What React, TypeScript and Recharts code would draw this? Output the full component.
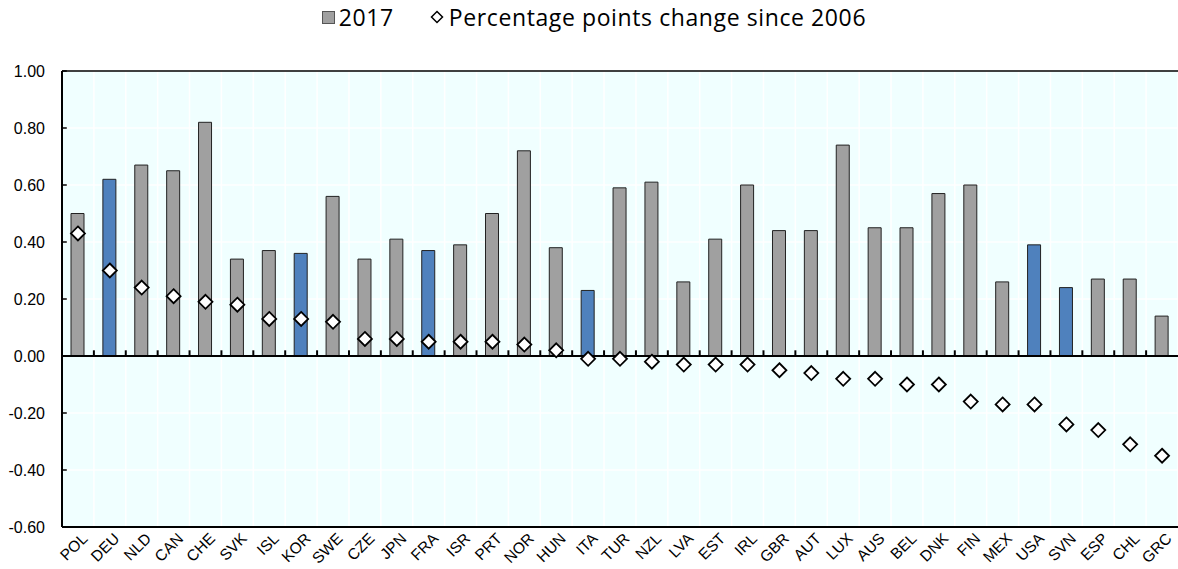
import { Bar, Cell, ComposedChart, CartesianGrid, Line, ReferenceLine, XAxis, YAxis } from "recharts"

const countries = [
  "POL", "DEU", "NLD", "CAN", "CHE", "SVK", "ISL", "KOR", "SWE", "CZE", "JPN", "FRA",
  "ISR", "PRT", "NOR", "HUN", "ITA", "TUR", "NZL", "LVA", "EST", "IRL", "GBR", "AUT",
  "LUX", "AUS", "BEL", "DNK", "FIN", "MEX", "USA", "SVN", "ESP", "CHL", "GRC",
]

const level2017 = [
  0.5, 0.62, 0.67, 0.65, 0.82, 0.34, 0.37, 0.36, 0.56, 0.34, 0.41, 0.37,
  0.39, 0.5, 0.72, 0.38, 0.23, 0.59, 0.61, 0.26, 0.41, 0.6, 0.44, 0.44,
  0.74, 0.45, 0.45, 0.57, 0.6, 0.26, 0.39, 0.24, 0.27, 0.27, 0.14,
]

const change2006 = [
  0.43, 0.3, 0.24, 0.21, 0.19, 0.18, 0.13, 0.13, 0.12, 0.06, 0.06, 0.05,
  0.05, 0.05, 0.04, 0.02, -0.01, -0.01, -0.02, -0.03, -0.03, -0.03, -0.05, -0.06,
  -0.08, -0.08, -0.1, -0.1, -0.16, -0.17, -0.17, -0.24, -0.26, -0.31, -0.35,
]

const highlighted = ["DEU", "KOR", "FRA", "ITA", "USA", "SVN"]

const yTicks = [-0.6, -0.4, -0.2, 0, 0.2, 0.4, 0.6, 0.8, 1.0]

const data = countries.map((c, i) => ({ name: c, pos: i + 0.5, level: level2017[i], change: change2006[i] }))
const boundaries = countries.map((_, i) => i).concat(countries.length)

const GRAY = "#a0a0a0"
const BLUE = "#4f81bd"
const AXIS_FONT = "Liberation Sans, Arial, sans-serif"

function Diamond(props: any) {
  const { cx, cy } = props
  if (cx == null || cy == null) return null
  const r = 7
  return (
    <path
      d={`M${cx},${cy - r} L${cx + r},${cy} L${cx},${cy + r} L${cx - r},${cy} Z`}
      fill="#fff"
      stroke="#000"
      strokeWidth={1.8}
    />
  )
}

function CountryTick(props: any) {
  const { x, y, payload } = props
  return (
    <g transform={`translate(${x + 7},${y + 1}) rotate(-45)`}>
      <text x={0} y={0} dy={5} textAnchor="end" fontFamily={AXIS_FONT} fontSize={15.5} fill="#000">
        {payload.value}
      </text>
    </g>
  )
}

function YTick(props: any) {
  const { y, payload } = props
  return (
    <text x={45} y={y} dy={5.5} textAnchor="end" fontFamily={AXIS_FONT} fontSize={16} fill="#000">
      {Number(payload.value).toFixed(2)}
    </text>
  )
}

function Legend() {
  return (
    <div
      style={{
        position: "absolute",
        top: 1,
        left: 0,
        width: 1178,
        display: "flex",
        justifyContent: "center",
        alignItems: "center",
        fontFamily: "'Open Sans', sans-serif",
        fontSize: 23,
        letterSpacing: 0.6,
        color: "#000",
        whiteSpace: "nowrap",
        paddingLeft: 10,
        boxSizing: "border-box",
      }}
    >
      <span style={{ display: "inline-block", width: 11, height: 11, background: GRAY, border: "1px solid #555", marginRight: 4 }} />
      <span style={{ marginRight: 36 }}>2017</span>
      <svg width={14} height={14} style={{ marginRight: 5 }}>
        <path d="M7,1.5 L12.5,7 L7,12.5 L1.5,7 Z" fill="#fff" stroke="#000" strokeWidth={1.5} />
      </svg>
      <span>Percentage points change since 2006</span>
    </div>
  )
}

export default function App() {
  return (
    <div style={{ position: "absolute", left: 0, top: 0, width: 1178, height: 569, background: "#fff" }}>
      <Legend />
      <ComposedChart width={1178} height={569} data={data} margin={{ top: 71, right: 0, left: 0, bottom: 0 }}>
        <XAxis
          dataKey="name"
          interval={0}
          height={42}
          tickLine={false}
          axisLine={{ stroke: "#000", strokeWidth: 2 }}
          tick={<CountryTick />}
        />
        <XAxis
          xAxisId="b"
          dataKey="pos"
          type="number"
          domain={[0, countries.length]}
          ticks={boundaries}
          allowDataOverflow
          hide
        />
        <YAxis
          domain={[-0.6, 1.0]}
          ticks={yTicks}
          width={62}
          axisLine={{ stroke: "#000", strokeWidth: 2 }}
          tickLine={false}
          tick={<YTick />}
          allowDataOverflow
        />
        <CartesianGrid xAxisId="b" stroke="#ffffff" strokeWidth={1.5} fill="#f0ffff" />
        <ReferenceLine y={1.0} stroke="#000" strokeWidth={1.5} />
        {yTicks.map((t) => (
          <ReferenceLine
            key={"y" + t}
            xAxisId="b"
            ifOverflow="visible"
            segment={[{ x: 0, y: t }, { x: 0.15, y: t }]}
            stroke="#000"
            strokeWidth={1.5}
          />
        ))}
        {boundaries.slice(1, -1).map((b) => (
          <ReferenceLine
            key={b}
            xAxisId="b"
            ifOverflow="visible"
            segment={[{ x: b, y: 0 }, { x: b, y: 0.02 }]}
            stroke="#000"
            strokeWidth={2}
          />
        ))}
        <Bar dataKey="level" barSize={13} stroke="#222" strokeWidth={1} isAnimationActive={false}>
          {data.map((d) => (
            <Cell key={d.name} fill={highlighted.includes(d.name) ? BLUE : GRAY} />
          ))}
        </Bar>
        <ReferenceLine y={0} stroke="#000" strokeWidth={2} />
        <Line dataKey="change" stroke="none" dot={<Diamond />} activeDot={false} isAnimationActive={false} />
      </ComposedChart>
    </div>
  )
}
